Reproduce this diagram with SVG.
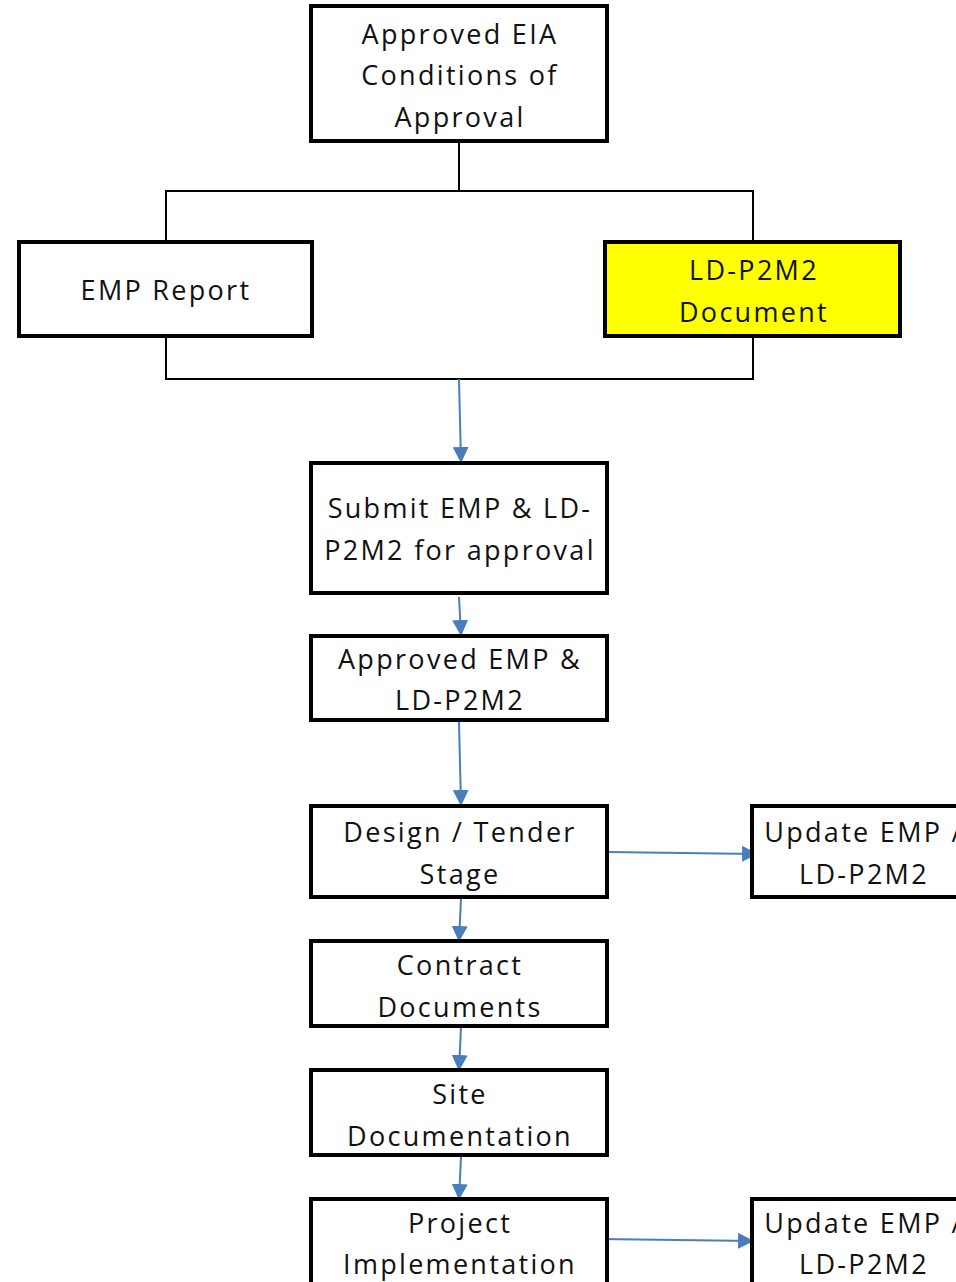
<svg xmlns="http://www.w3.org/2000/svg" width="956" height="1282" viewBox="0 0 956 1282">
<style>
.box{fill:#fff;stroke:#000;stroke-width:4}
.yel{fill:#ffff00;stroke:#000;stroke-width:4}
.t{font-family:"Open Sans","Liberation Sans",sans-serif;font-size:27px;letter-spacing:2.3px;fill:#111;text-anchor:middle}
.k{fill:none;stroke:#000;stroke-width:2}
.b{fill:none;stroke:#4a7ebb;stroke-width:2}
</style>
<defs>
<marker id="ah" viewBox="0 0 16 16" refX="15" refY="8" markerWidth="16" markerHeight="16" markerUnits="userSpaceOnUse" orient="auto">
<path d="M0,0 L16,8 L0,16 Z" fill="#4a7ebb"/>
</marker>
</defs>
<g id="connectors">
<path class="k" d="M459,141 V191 M166,242 V191 H753 V242"/>
<path class="k" d="M166,336 V379 H753 V336"/>
<path class="b" d="M459,379 L461,462" marker-end="url(#ah)"/>
<path class="b" d="M459,597 L461,635" marker-end="url(#ah)"/>
<path class="b" d="M459,722 L461,805" marker-end="url(#ah)"/>
<path class="b" d="M607,852 L757,854" marker-end="url(#ah)"/>
<path class="b" d="M461,899 L459,941" marker-end="url(#ah)"/>
<path class="b" d="M461,1027 L459,1070" marker-end="url(#ah)"/>
<path class="b" d="M461,1157 L459,1199" marker-end="url(#ah)"/>
<path class="b" d="M600,1239 L753,1241" marker-end="url(#ah)"/>
</g>
<g id="n-eia">
<rect class="box" x="311" y="6" width="296" height="135"/>
<text class="t" x="460" y="44">Approved EIA</text>
<text class="t" x="460" y="85">Conditions of</text>
<text class="t" x="460" y="127">Approval</text>
</g>
<g id="n-emp">
<rect class="box" x="19" y="242" width="293" height="94"/>
<text class="t" x="166" y="300">EMP Report</text>
</g>
<g id="n-ld">
<rect class="yel" x="605" y="242" width="295" height="94"/>
<text class="t" x="754" y="280">LD-P2M2</text>
<text class="t" x="754" y="322">Document</text>
</g>
<g id="n-submit">
<rect class="box" x="311" y="463" width="296" height="130"/>
<text class="t" x="460" y="518">Submit EMP &amp; LD-</text>
<text class="t" x="460" y="560">P2M2 for approval</text>
</g>
<g id="n-approved">
<rect class="box" x="311" y="636" width="296" height="84"/>
<text class="t" x="460" y="669">Approved EMP &amp;</text>
<text class="t" x="460" y="710">LD-P2M2</text>
</g>
<g id="n-design">
<rect class="box" x="311" y="806" width="296" height="91"/>
<text class="t" x="460" y="842">Design / Tender</text>
<text class="t" x="460" y="884">Stage</text>
</g>
<g id="n-update1">
<rect class="box" x="752" y="806" width="296" height="91"/>
<text class="t" x="864" y="842">Update EMP /</text>
<text class="t" x="864" y="884">LD-P2M2</text>
</g>
<g id="n-contract">
<rect class="box" x="311" y="941" width="296" height="85"/>
<text class="t" x="460" y="975">Contract</text>
<text class="t" x="460" y="1017">Documents</text>
</g>
<g id="n-site">
<rect class="box" x="311" y="1070" width="296" height="85"/>
<text class="t" x="460" y="1104">Site</text>
<text class="t" x="460" y="1146">Documentation</text>
</g>
<g id="n-project">
<rect class="box" x="311" y="1199" width="296" height="120"/>
<text class="t" x="460" y="1233">Project</text>
<text class="t" x="460" y="1274">Implementation</text>
</g>
<g id="n-update2">
<rect class="box" x="752" y="1199" width="296" height="120"/>
<text class="t" x="864" y="1233">Update EMP /</text>
<text class="t" x="864" y="1274">LD-P2M2</text>
</g>
</svg>
